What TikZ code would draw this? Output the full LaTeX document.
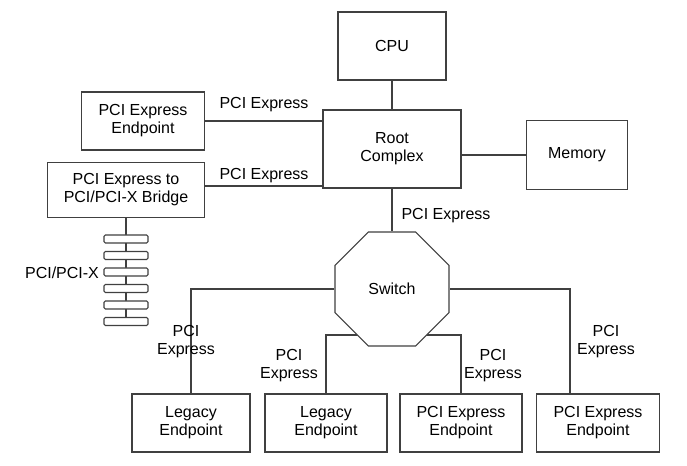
\documentclass[tikz,border=0pt]{standalone}
\usepackage{fontspec}
\setmainfont{Liberation Sans}
\usetikzlibrary{positioning,shapes.geometric,calc}
\tikzset{
  box/.style={draw=black!75,line width=0.9pt,fill=white,align=center,inner sep=0pt},
  lbl/.style={align=center,inner sep=0pt,font=\fontsize{12}{13.5}\selectfont},
  wire/.style={draw=black!75,line width=0.9pt},
  slot/.style={draw=black!75,line width=0.8pt,fill=white,rounded corners=1pt,minimum width=44*0.75pt,minimum height=8*0.75pt,inner sep=0pt}
}
\begin{document}
\begin{tikzpicture}[x=0.75pt,y=-0.75pt,font=\fontsize{12}{13.5}\selectfont]
\useasboundingbox (0,0) rectangle (687,466);
% boxes
\node[box,minimum width=108*0.75pt,minimum height=68*0.75pt] (cpu) at (392,46) {CPU};
\node[box,minimum width=138*0.75pt,minimum height=78*0.75pt] (root) at (392,149) {Root\\Complex};
\node[box,minimum width=101*0.75pt,minimum height=69*0.75pt] (mem) at (577,155) {Memory};
\node[box,minimum width=123*0.75pt,minimum height=58*0.75pt] (ep0) at (143,121) {PCI Express\\Endpoint};
\node[box,minimum width=157*0.75pt,minimum height=55*0.75pt] (bridge) at (126,190) {PCI Express to\\PCI/PCI-X Bridge};
\node[box,minimum width=118*0.75pt,minimum height=58*0.75pt] (leg1) at (191,423) {Legacy\\Endpoint};
\node[box,minimum width=122*0.75pt,minimum height=58*0.75pt] (leg2) at (326,423) {Legacy\\Endpoint};
\node[box,minimum width=122*0.75pt,minimum height=58*0.75pt] (ep1) at (461,423) {PCI Express\\Endpoint};
\node[box,minimum width=123*0.75pt,minimum height=58*0.75pt] (ep2) at (598,423) {PCI Express\\Endpoint};
\coordinate (bus) at (392,335);
\coordinate (stack) at (126,322);

% wires
\draw[wire] (cpu) -- (root);
\draw[wire] (mem.west) -- (mem.west -| root.east);
\draw[wire] (ep0.east) -- (ep0.east -| root.west);
\draw[wire] (bridge.east |- 0,186) -- (root.west |- 0,186);
\draw[wire] (bridge.south) -- (stack);
\draw[wire] (leg2.north) |- (bus) -| (ep1.north);
\foreach \i in {0,...,5}
  \node[slot] (s\i) at (126,239+16.5*\i) {};

\node[regular polygon,regular polygon sides=8,box,minimum size=123.4*0.75pt] (switch) at (392,289) {Switch};
\draw[wire] (root) -- (switch);
\draw[wire] (leg1.north) |- (switch.west);
\draw[wire] (ep2.north -| 570,0) |- (switch.east);

% labels
\node[lbl] at (264,105) {PCI Express};
\node[lbl] at (264,176) {PCI Express};
\node[lbl] at (446,216) {PCI Express};
\node[lbl] at (62,273) {PCI/PCI-X};
\node[lbl] at (186,342) {PCI\\Express};
\node[lbl] at (289,366) {PCI\\Express};
\node[lbl] at (493,366) {PCI\\Express};
\node[lbl] at (606,342) {PCI\\Express};
\end{tikzpicture}
\end{document}
